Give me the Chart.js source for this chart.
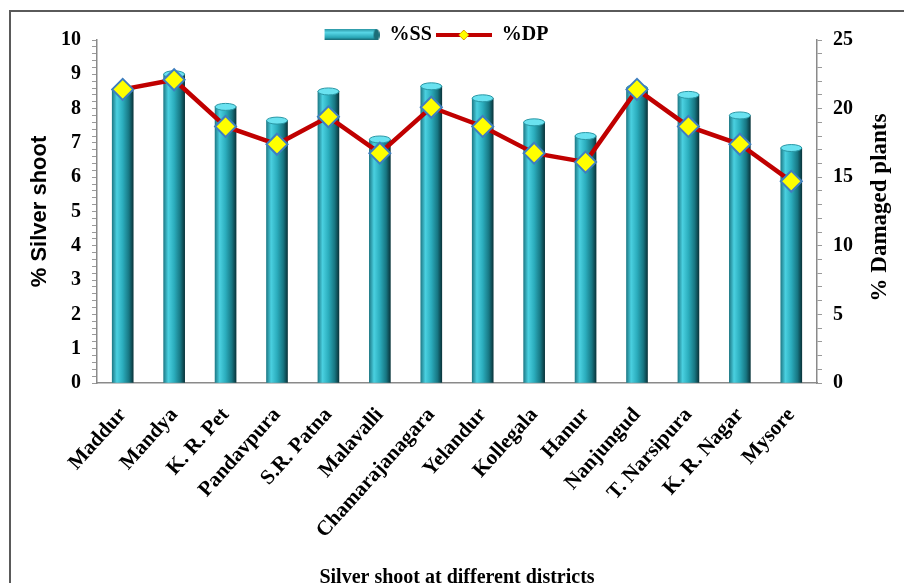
<!DOCTYPE html>
<html>
<head>
<meta charset="utf-8">
<script src="https://cdn.jsdelivr.net/npm/chart.js@4/dist/chart.umd.min.js"></script>
<style>
  html, body { margin: 0; padding: 0; background: #fff; overflow: hidden; width: 904px; height: 583px; }
  #frame { position: absolute; left: 9px; top: 10px; width: 1000px; height: 1000px; border-left: 2px solid #5a5a5a; border-top: 2px solid #5a5a5a; }
  canvas { position: absolute; left: 0; top: 0; }
</style>
</head>
<body>
<div id="frame"></div>
<canvas id="chart" width="904" height="594"></canvas>
<script>
const districts = ["Maddur", "Mandya", "K. R. Pet", "Pandavpura", "S.R. Patna", "Malavalli",
  "Chamarajanagara", "Yelandur", "Kollegala", "Hanur", "Nanjungud", "T. Narsipura", "K. R. Nagar", "Mysore"];
const silverShoot = [8.55, 9.0, 8.05, 7.65, 8.5, 7.1, 8.65, 8.3, 7.6, 7.2, 8.6, 8.4, 7.8, 6.85];
const damagedPlants = [21.4, 22.1, 18.7, 17.4, 19.4, 16.75, 20.1, 18.7, 16.75, 16.1, 21.4, 18.7, 17.4, 14.7];
const ssTicks = [0, 1, 2, 3, 4, 5, 6, 7, 8, 9, 10];
const dpTicks = [0, 5, 10, 15, 20, 25];

const BAR_W = 21;
const serif = "'Liberation Serif', 'Times New Roman', serif";

function cylinder(ctx, x, w) {
  const g = ctx.createLinearGradient(x - w / 2, 0, x + w / 2, 0);
  g.addColorStop(0, "#1f7c89");
  g.addColorStop(0.22, "#4ad0e0");
  g.addColorStop(0.5, "#2badbd");
  g.addColorStop(0.8, "#177682");
  g.addColorStop(1, "#0a363d");
  return g;
}

// little pictures for the legend
function ssSwatch() {
  const c = document.createElement("canvas");
  c.width = 56; c.height = 14;
  const x = c.getContext("2d");
  const g = x.createLinearGradient(0, 1, 0, 13);
  g.addColorStop(0, "#2b96a4");
  g.addColorStop(0.3, "#58d6e6");
  g.addColorStop(0.7, "#2aa7b7");
  g.addColorStop(1, "#0f4e57");
  x.fillStyle = g;
  x.fillRect(1, 1, 52, 12);
  x.fillStyle = "#1c6e79";
  x.beginPath();
  x.ellipse(53, 7, 3, 6, 0, 0, Math.PI * 2);
  x.fill();
  return c;
}

function dpSwatch() {
  const c = document.createElement("canvas");
  c.width = 56; c.height = 14;
  const x = c.getContext("2d");
  x.strokeStyle = "#c00000";
  x.lineWidth = 4;
  x.beginPath();
  x.moveTo(0, 7); x.lineTo(56, 7);
  x.stroke();
  x.fillStyle = "#ffff00";
  x.strokeStyle = "#d8a000";
  x.lineWidth = 1;
  x.beginPath();
  x.moveTo(28, 2); x.lineTo(33, 7); x.lineTo(28, 12); x.lineTo(23, 7); x.closePath();
  x.fill(); x.stroke();
  return c;
}

const capPlugin = {
  id: "caps",
  afterDatasetDraw(chart, args) {
    if (args.index !== 0) return;
    const ctx = chart.ctx;
    ctx.save();
    args.meta.data.forEach((bar) => {
      ctx.fillStyle = "#6ae2f0";
      ctx.strokeStyle = "#2a97a5";
      ctx.lineWidth = 1;
      ctx.beginPath();
      ctx.ellipse(bar.x, bar.y, bar.width / 2, 3.5, 0, 0, Math.PI * 2);
      ctx.fill();
      ctx.stroke();
    });
    ctx.restore();
  },
};

const rightTitle = {
  id: "rightTitle",
  afterDraw(chart) {
    const { ctx, chartArea } = chart;
    ctx.save();
    ctx.translate(880, (chartArea.top + chartArea.bottom) / 2 - 4);
    ctx.rotate(-Math.PI / 2);
    ctx.font = "bold 23px " + serif;
    ctx.fillStyle = "#000";
    ctx.textAlign = "center";
    ctx.textBaseline = "middle";
    ctx.fillText("% Damaged plants", 0, 0);
    ctx.restore();
  },
};

const swatches = [ssSwatch(), dpSwatch()];
const isTick = (list, v) => list.some((t) => Math.abs(t - v) < 1e-6);

new Chart(document.getElementById("chart"), {
  type: "bar",
  data: {
    labels: districts,
    datasets: [
      {
        label: "%SS",
        data: silverShoot,
        yAxisID: "y",
        order: 1,
        barThickness: BAR_W,
        borderWidth: 0,
        backgroundColor: (c) => {
          if (c.type !== "data") return "#34b8c8";
          const x = c.chart.scales.x.getPixelForValue(c.dataIndex);
          return cylinder(c.chart.ctx, x, BAR_W);
        },
      },
      {
        type: "line",
        label: "%DP",
        data: damagedPlants,
        yAxisID: "y1",
        order: 0,
        borderColor: "#c00000",
        borderWidth: 4.5,
        tension: 0,
        pointStyle: "rectRot",
        pointRadius: 10.5,
        pointBackgroundColor: "#ffff00",
        pointBorderColor: "#3f7fbf",
        pointBorderWidth: 2,
      },
    ],
  },
  options: {
    responsive: false,
    animation: false,
    layout: { padding: { top: 21, left: 0, right: 32, bottom: 0 } },
    plugins: {
      tooltip: { enabled: false },
      legend: {
        position: "top",
        maxHeight: 19,
        labels: {
          usePointStyle: true,
          pointStyleWidth: 56,
          padding: 4,
          color: "#000",
          font: { family: serif, size: 20, weight: "bold" },
          generateLabels: (chart) =>
            chart.data.datasets.map((ds, i) => ({
              text: ds.label,
              pointStyle: swatches[i],
              datasetIndex: i,
              hidden: false,
              lineWidth: 0,
              fontColor: "#000",
            })),
        },
      },
    },
    scales: {
      x: {
        offset: true,
        grid: { display: false },
        border: { display: true, color: "#8a8a8a", width: 1.5 },
        ticks: {
          color: "#000",
          minRotation: 48,
          maxRotation: 48,
          autoSkip: false,
          padding: 12,
          font: { family: serif, size: 21, weight: "bold" },
        },
        title: {
          display: true,
          text: "Silver shoot at different districts",
          color: "#000",
          padding: { top: 0, bottom: 4 },
          font: { family: serif, size: 20, weight: "bold" },
        },
        afterFit: (s) => { s.height = 211; },
      },
      y: {
        position: "left",
        min: 0,
        max: 10,
        grid: { drawOnChartArea: false, drawTicks: true, tickLength: 5, color: "#9a9a9a" },
        border: { display: true, color: "#8a8a8a", width: 1.5 },
        ticks: {
          stepSize: 0.2,
          autoSkip: false,
          padding: 11,
          color: "#000",
          font: { family: serif, size: 20, weight: "bold" },
          callback: (v) => (isTick(ssTicks, v) ? Math.round(v) : ""),
        },
        title: {
          display: true,
          text: "% Silver shoot",
          color: "#000",
          padding: { top: 27, bottom: 0 },
          font: { family: "'Liberation Sans', Arial, sans-serif", size: 22, weight: "bold" },
        },
        afterFit: (s) => { s.width = 97; },
      },
      y1: {
        position: "right",
        min: 0,
        max: 25,
        grid: { drawOnChartArea: false, drawTicks: true, tickLength: 5, color: "#9a9a9a" },
        border: { display: true, color: "#8a8a8a", width: 1.5 },
        ticks: {
          stepSize: 1,
          autoSkip: false,
          padding: 11,
          color: "#000",
          font: { family: serif, size: 20, weight: "bold" },
          callback: (v) => (isTick(dpTicks, v) ? Math.round(v) : ""),
        },
        afterFit: (s) => { s.width = 55; },
      },
    },
  },
  plugins: [capPlugin, rightTitle],
});
</script>
</body>
</html>
